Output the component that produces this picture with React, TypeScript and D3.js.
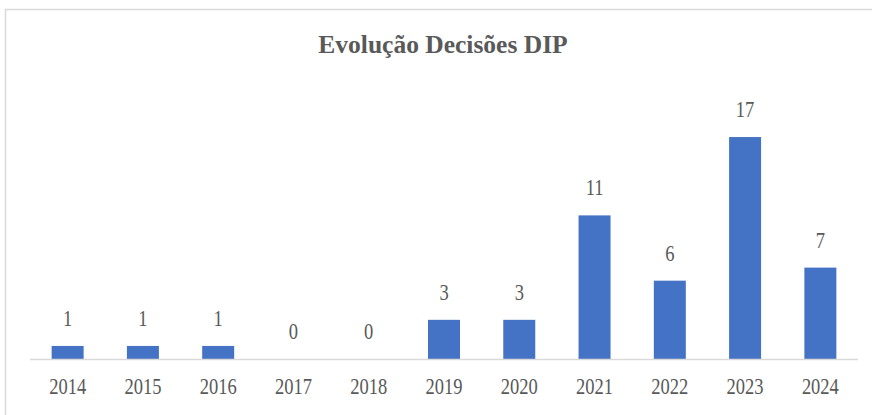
import React from "react";
import * as d3 from "d3";

const years: string[] = ["2014", "2015", "2016", "2017", "2018", "2019", "2020", "2021", "2022", "2023", "2024"];
const decisions: number[] = [1, 1, 1, 0, 0, 3, 3, 11, 6, 17, 7];
const title = "Evolução Decisões DIP";

const W = 872;
const H = 415;

export default function App() {
  const x = d3.scaleBand<string>().domain(years).range([30, 858]).paddingInner(0.575).paddingOuter(0.2875);
  const y = d3.scaleLinear().domain([0, 18]).range([359, 124]);
  const textColor = "#595959";
  const font = "'Liberation Serif', 'Times New Roman', serif";
  const sy = 1.3;

  return (
    <svg width={W} height={H} style={{ position: "absolute", left: 0, top: 0, background: "#fff" }}>
      <rect x={0} y={0} width={W} height={H} fill="#fff" />
      <rect x={5.5} y={9.5} width={W + 20} height={H + 20} fill="#fff" stroke="#d9d9d9" strokeWidth={1.5} />
      <text
        x={443}
        y={53}
        textAnchor="middle"
        fontFamily={font}
        fontWeight="bold"
        fontSize={25.5}
        fill={textColor}
      >
        {title}
      </text>
      {years.map((yr, i) => {
        const v = decisions[i];
        const bx = x(yr)!;
        const bw = x.bandwidth();
        const cx = bx + bw / 2;
        return (
          <g key={yr}>
            {v > 0 && (
              <rect x={bx} y={y(v)} width={bw} height={y(0) - y(v)} fill="#4472C4" />
            )}
            <g transform={`translate(${cx},${y(v) - 20}) scale(1,${sy})`}>
              <text x={0} y={0} textAnchor="middle" fontFamily={font} fontSize={18.5} fill={textColor}>
                {v}
              </text>
            </g>
            <g transform={`translate(${cx},394) scale(1,${sy})`}>
              <text x={0} y={0} textAnchor="middle" fontFamily={font} fontSize={18.5} fill={textColor}>
                {yr}
              </text>
            </g>
          </g>
        );
      })}
      <line x1={30} x2={858} y1={359.5} y2={359.5} stroke="#d9d9d9" strokeWidth={1.5} />
    </svg>
  );
}
